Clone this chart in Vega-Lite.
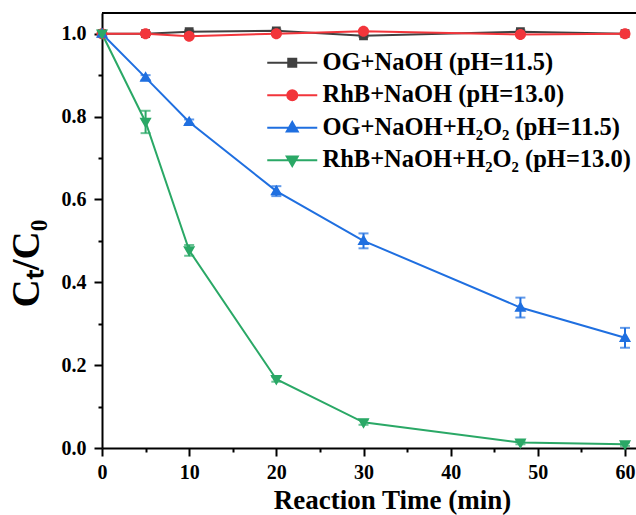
{
  "$schema": "https://vega.github.io/schema/vega-lite/v6.json",
  "width": 534,
  "height": 435,
  "autosize": "none",
  "padding": {"left": 102, "top": 13, "right": 0, "bottom": 67},
  "background": "white",
  "config": {
    "font": "Liberation Serif",
    "view": {"stroke": null},
    "axis": {
      "domainColor": "black", "domainWidth": 2, "tickColor": "black", "tickWidth": 2,
      "labelFont": "Liberation Serif", "labelFontWeight": "bold", "labelFontSize": 20, "labelColor": "black",
      "titleFont": "Liberation Serif", "titleFontWeight": "bold", "titleColor": "black", "grid": false
    },
    "legend": {
      "labelFont": "Liberation Serif", "labelFontWeight": "bold", "labelFontSize": 24.5, "labelColor": "black",
      "symbolSize": 100, "symbolStrokeWidth": 2, "symbolOpacity": 1, "labelOffset": 18, "rowPadding": 7.5, "padding": 0, "labelLimit": 500
    }
  },
  "datasets": {
    "d": [
      {"t": 0, "v": 1.0, "e": 0.0, "s": "OG+NaOH (pH=11.5)"},
      {"t": 5, "v": 1.0, "e": 0.003, "s": "OG+NaOH (pH=11.5)"},
      {"t": 10, "v": 1.005, "e": 0.003, "s": "OG+NaOH (pH=11.5)"},
      {"t": 20, "v": 1.007, "e": 0.003, "s": "OG+NaOH (pH=11.5)"},
      {"t": 30, "v": 0.995, "e": 0.003, "s": "OG+NaOH (pH=11.5)"},
      {"t": 48, "v": 1.005, "e": 0.003, "s": "OG+NaOH (pH=11.5)"},
      {"t": 60, "v": 1.0, "e": 0.003, "s": "OG+NaOH (pH=11.5)"},
      {"t": 0, "v": 1.0, "e": 0.0, "s": "RhB+NaOH (pH=13.0)"},
      {"t": 5, "v": 1.0, "e": 0.003, "s": "RhB+NaOH (pH=13.0)"},
      {"t": 10, "v": 0.994, "e": 0.003, "s": "RhB+NaOH (pH=13.0)"},
      {"t": 20, "v": 1.0, "e": 0.003, "s": "RhB+NaOH (pH=13.0)"},
      {"t": 30, "v": 1.006, "e": 0.003, "s": "RhB+NaOH (pH=13.0)"},
      {"t": 48, "v": 0.998, "e": 0.003, "s": "RhB+NaOH (pH=13.0)"},
      {"t": 60, "v": 1.0, "e": 0.003, "s": "RhB+NaOH (pH=13.0)"},
      {"t": 0, "v": 1.0, "e": 0.0, "s": "OG+NaOH+H₂O₂ (pH=11.5)"},
      {"t": 5, "v": 0.894, "e": 0.006, "s": "OG+NaOH+H₂O₂ (pH=11.5)"},
      {"t": 10, "v": 0.787, "e": 0.006, "s": "OG+NaOH+H₂O₂ (pH=11.5)"},
      {"t": 20, "v": 0.62, "e": 0.012, "s": "OG+NaOH+H₂O₂ (pH=11.5)"},
      {"t": 30, "v": 0.5, "e": 0.018, "s": "OG+NaOH+H₂O₂ (pH=11.5)"},
      {"t": 48, "v": 0.339, "e": 0.024, "s": "OG+NaOH+H₂O₂ (pH=11.5)"},
      {"t": 60, "v": 0.266, "e": 0.024, "s": "OG+NaOH+H₂O₂ (pH=11.5)"},
      {"t": 0, "v": 1.0, "e": 0.0, "s": "RhB+NaOH+H₂O₂ (pH=13.0)"},
      {"t": 5, "v": 0.787, "e": 0.027, "s": "RhB+NaOH+H₂O₂ (pH=13.0)"},
      {"t": 10, "v": 0.477, "e": 0.013, "s": "RhB+NaOH+H₂O₂ (pH=13.0)"},
      {"t": 20, "v": 0.166, "e": 0.006, "s": "RhB+NaOH+H₂O₂ (pH=13.0)"},
      {"t": 30, "v": 0.062, "e": 0.006, "s": "RhB+NaOH+H₂O₂ (pH=13.0)"},
      {"t": 48, "v": 0.013, "e": 0.004, "s": "RhB+NaOH+H₂O₂ (pH=13.0)"},
      {"t": 60, "v": 0.009, "e": 0.004, "s": "RhB+NaOH+H₂O₂ (pH=13.0)"}
    ]
  },
  "data": {"name": "d"},
  "layer": [
    {
      "mark": {"type": "line", "strokeWidth": 2},
      "encoding": {
        "x": {
          "field": "t", "type": "quantitative", "title": "Reaction Time (min)",
          "scale": {"domain": [0, 61.26], "nice": false},
          "axis": {
            "titleFontSize": 27, "titleX": 290, "titleY": 60, "titleBaseline": "alphabetic",
            "values": [0, 5, 10, 15, 20, 25, 30, 35, 40, 45, 50, 55, 60],
            "labelExpr": "datum.value % 10 === 0 ? datum.label : ''",
            "tickSize": {"condition": {"test": "datum.value % 10 !== 0", "value": 4}, "value": 8},
            "labelPadding": 6, "labelFlush": false
          }
        },
        "y": {
          "field": "v", "type": "quantitative", "title": "Cₜ/C₀",
          "scale": {"domain": [0, 1.05], "nice": false},
          "axis": {
            "titleFontSize": 39, "titleX": -64, "titleY": 250, "titleBaseline": "alphabetic", "titleAngle": 270,
            "values": [0, 0.1, 0.2, 0.3, 0.4, 0.5, 0.6, 0.7, 0.8, 0.9, 1.0],
            "format": ".1f",
            "labelExpr": "round(datum.value * 10) % 2 === 0 ? datum.label : ''",
            "tickSize": {"condition": {"test": "round(datum.value * 10) % 2 !== 0", "value": 4}, "value": 8},
            "labelPadding": 8, "labelFlush": false
          }
        },
        "color": {"field": "s", "type": "nominal",
          "scale": {"domain": ["OG+NaOH (pH=11.5)", "RhB+NaOH (pH=13.0)", "OG+NaOH+H₂O₂ (pH=11.5)", "RhB+NaOH+H₂O₂ (pH=13.0)"],
                    "range": ["#404040", "#f2353b", "#1f6fe0", "#2aa866"]}}
      }
    },
    {
      "mark": {"type": "errorbar", "ticks": {"size": 10, "thickness": 2}, "thickness": 2},
      "encoding": {
        "x": {"field": "t", "type": "quantitative", "title": "Reaction Time (min)"},
        "y": {"field": "v", "type": "quantitative", "title": "Cₜ/C₀"},
        "yError": {"field": "e"},
        "color": {"field": "s", "type": "nominal"}
      }
    },
    {
      "mark": {"type": "point", "filled": true, "opacity": 1, "size": 121, "strokeWidth": 0},
      "encoding": {
        "x": {"field": "t", "type": "quantitative", "title": "Reaction Time (min)"},
        "y": {"field": "v", "type": "quantitative", "title": "Cₜ/C₀"},
        "color": {"field": "s", "type": "nominal",
          "legend": {"title": null, "orient": "none", "legendX": 178, "legendY": 37.5}},
        "shape": {"field": "s", "type": "nominal",
          "legend": {"title": null, "orient": "none", "legendX": 178, "legendY": 37.5},
          "scale": {"domain": ["OG+NaOH (pH=11.5)", "RhB+NaOH (pH=13.0)", "OG+NaOH+H₂O₂ (pH=11.5)", "RhB+NaOH+H₂O₂ (pH=13.0)"],
                    "range": [
                      "M-5,0H5M-0.8,-0.8H0.8V0.8H-0.8Z",
                      "M-5,0H5M-1,0A1,1,0,1,0,1,0A1,1,0,1,0,-1,0Z",
                      "M-5,0H5M0,-1.15L1.1,0.75L-1.1,0.75Z",
                      "M-5,0H5M0,1.15L1.1,-0.75L-1.1,-0.75Z"
                    ]}}
      }
    },
    {
      "mark": {"type": "rule", "color": "black", "strokeWidth": 2},
      "encoding": {"y": {"datum": 1.05, "type": "quantitative"}}
    }
  ]
}
